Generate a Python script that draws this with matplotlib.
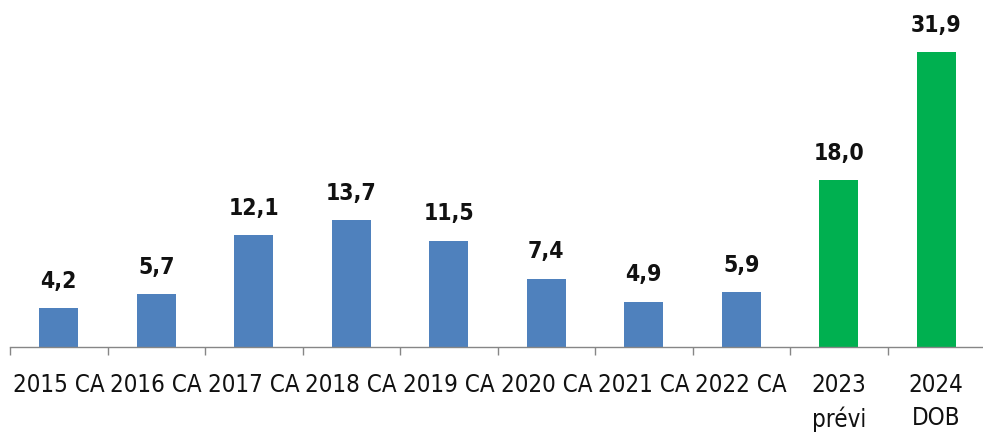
import matplotlib.pyplot as plt

# Data
categories = ["2015 CA", "2016 CA", "2017 CA", "2018 CA", "2019 CA",
              "2020 CA", "2021 CA", "2022 CA", "2023\nprévi", "2024\nDOB"]
values = [4.2, 5.7, 12.1, 13.7, 11.5, 7.4, 4.9, 5.9, 18.0, 31.9]
colors = ["#4F81BD"] * 8 + ["#00B050"] * 2

plt.rcParams["font.family"] = ["DejaVu Sans"]
plt.rcParams["font.stretch"] = "condensed"

fig = plt.figure(figsize=(9.83, 4.32), dpi=100)
ax = fig.add_axes([10 / 983, 85 / 432, 975 / 983, 347 / 432])

x = range(len(categories))
bars = ax.bar(x, values, width=0.4, color=colors)

for xi, v in zip(x, values):
    ax.annotate(f"{v:.1f}".replace(".", ","), (xi, v), xytext=(0, 11),
                textcoords="offset points", ha="center", va="bottom",
                fontsize=16.5, fontweight="bold", color="#111111",
                fontstretch="condensed")

ax.set_xlim(-0.5, len(categories) - 0.5)
ax.set_ylim(0, 37.5)

# category ticks (labels) and boundary ticks (marks)
ax.set_xticks(list(x))
ax.set_xticklabels(categories, fontsize=17.3, linespacing=1.45,
                   fontstretch="condensed")
ax.tick_params(axis="x", which="major", length=0, pad=19, colors="#111111")
ax.set_xticks([i - 0.5 for i in range(len(categories) + 1)], minor=True)
ax.tick_params(axis="x", which="minor", length=6, width=1, color="#868686")

ax.set_yticks([])
for side in ["top", "right", "left"]:
    ax.spines[side].set_visible(False)
ax.spines["bottom"].set_color("#868686")
ax.spines["bottom"].set_linewidth(1)

fig.savefig("out.png", dpi=100)
plt.close(fig)
